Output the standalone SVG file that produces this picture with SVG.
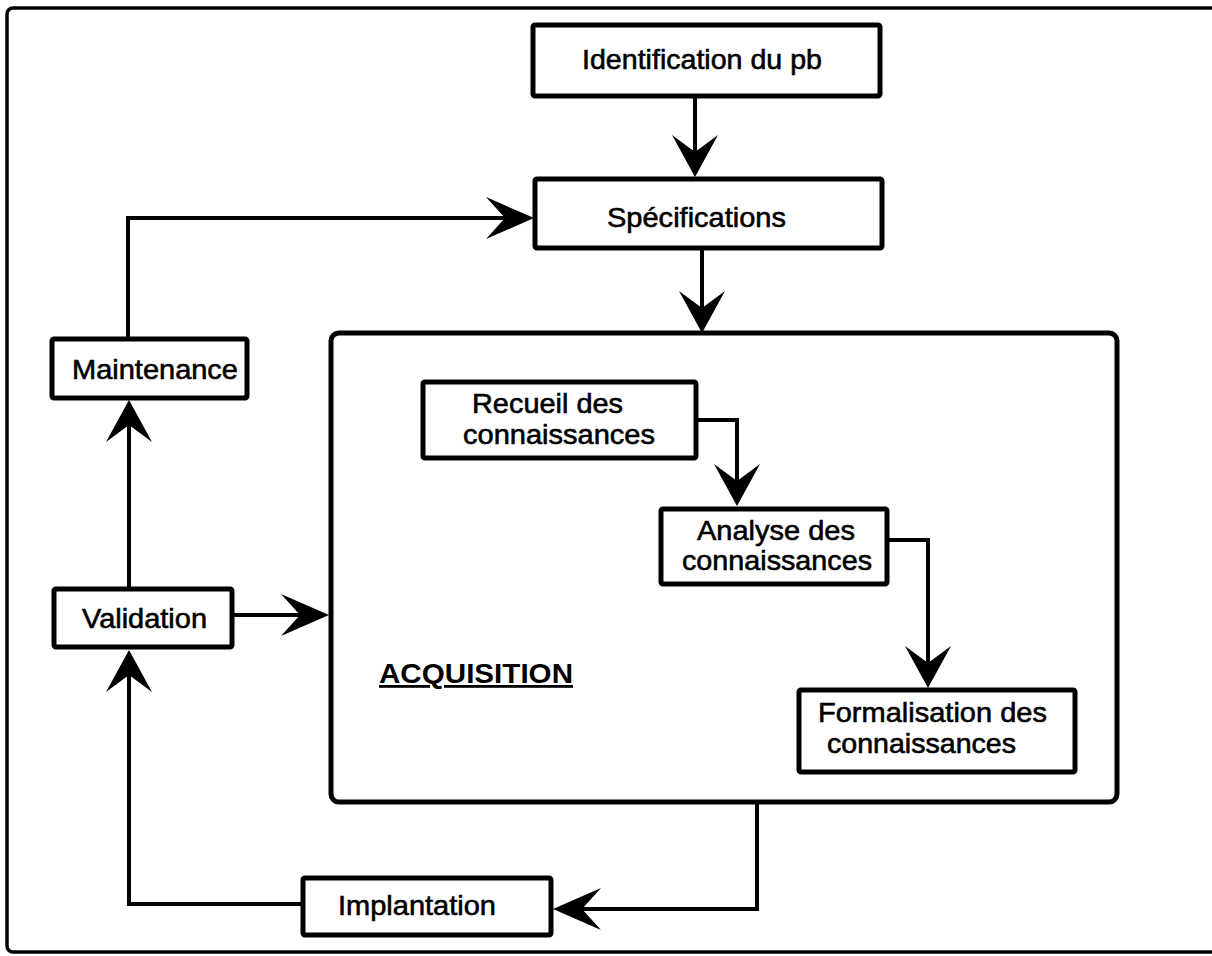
<svg xmlns="http://www.w3.org/2000/svg" width="1212" height="956" viewBox="0 0 1212 956">
<style>
.frame{fill:#fff;stroke:#000;stroke-width:3.5}
.box{fill:#fff;stroke:#000;stroke-width:5}
.group{fill:#fff;stroke:#000;stroke-width:5}
.conn{fill:none;stroke:#000;stroke-width:4;stroke-linejoin:miter}
.t{font-family:"Liberation Sans",Arial,Helvetica,sans-serif;font-size:28.5px;fill:#000;stroke:#000;stroke-width:0.6}
.tb{font-family:"Liberation Sans",Arial,Helvetica,sans-serif;font-size:28px;font-weight:bold;fill:#000;text-decoration:underline}
</style>
<defs>
<marker id="arrowV" viewBox="0 0 42 46" markerWidth="42" markerHeight="46" refX="32" refY="23" orient="auto" markerUnits="userSpaceOnUse">
<path d="M42,23 L0,0 L17,23 L0,46 Z" fill="#000"/>
</marker>
<marker id="arrowH" viewBox="0 0 48 42" markerWidth="48" markerHeight="42" refX="38" refY="21" orient="auto" markerUnits="userSpaceOnUse">
<path d="M48,21 L0,0 L19,21 L0,42 Z" fill="#000"/>
</marker>
</defs>
<rect x="0" y="0" width="1212" height="956" fill="#fff"/>
<rect class="frame" x="7" y="8" width="1220" height="944" rx="6"/>

<g id="acquisition">
<rect class="group" x="331" y="333" width="786" height="469" rx="8"/>
<text class="tb" x="379" y="683" textLength="194" lengthAdjust="spacingAndGlyphs">ACQUISITION</text>
</g>

<g id="connectors">
<path class="conn" d="M695,96 V167" marker-end="url(#arrowV)"/>
<path class="conn" d="M702,248 V323" marker-end="url(#arrowV)"/>
<path class="conn" d="M128,339 V218 H524" marker-end="url(#arrowH)"/>
<path class="conn" d="M129,589 V410" marker-end="url(#arrowV)"/>
<path class="conn" d="M232,615 H319" marker-end="url(#arrowH)"/>
<path class="conn" d="M696,420 H737 V496" marker-end="url(#arrowV)"/>
<path class="conn" d="M887,540 H928 V678" marker-end="url(#arrowV)"/>
<path class="conn" d="M757,802 V909 H563" marker-end="url(#arrowH)"/>
<path class="conn" d="M303,904 H129 V660" marker-end="url(#arrowV)"/>
</g>

<g id="identification">
<rect class="box" x="533" y="25" width="347" height="71" rx="2"/>
<text class="t" x="582" y="69" textLength="240" lengthAdjust="spacingAndGlyphs">Identification du pb</text>
</g>
<g id="specifications">
<rect class="box" x="535" y="179" width="347" height="69" rx="2"/>
<text class="t" x="607" y="227" textLength="179" lengthAdjust="spacingAndGlyphs">Spécifications</text>
</g>
<g id="maintenance">
<rect class="box" x="52" y="339" width="195" height="59" rx="2"/>
<text class="t" x="72" y="379" textLength="166" lengthAdjust="spacingAndGlyphs">Maintenance</text>
</g>
<g id="validation">
<rect class="box" x="54" y="589" width="178" height="58" rx="2"/>
<text class="t" x="82" y="628" textLength="125" lengthAdjust="spacingAndGlyphs">Validation</text>
</g>
<g id="recueil">
<rect class="box" x="423" y="382" width="273" height="76" rx="2"/>
<text class="t" x="472" y="413" textLength="151" lengthAdjust="spacingAndGlyphs">Recueil des</text>
<text class="t" x="463" y="444" textLength="192" lengthAdjust="spacingAndGlyphs">connaissances</text>
</g>
<g id="analyse">
<rect class="box" x="661" y="509" width="226" height="75" rx="2"/>
<text class="t" x="697" y="540" textLength="158" lengthAdjust="spacingAndGlyphs">Analyse des</text>
<text class="t" x="682" y="570" textLength="190" lengthAdjust="spacingAndGlyphs">connaissances</text>
</g>
<g id="formalisation">
<rect class="box" x="799" y="690" width="276" height="82" rx="2"/>
<text class="t" x="818" y="722" textLength="229" lengthAdjust="spacingAndGlyphs">Formalisation des</text>
<text class="t" x="827" y="753" textLength="189" lengthAdjust="spacingAndGlyphs">connaissances</text>
</g>
<g id="implantation">
<rect class="box" x="303" y="878" width="248" height="57" rx="2"/>
<text class="t" x="338" y="915" textLength="158" lengthAdjust="spacingAndGlyphs">Implantation</text>
</g>
</svg>
